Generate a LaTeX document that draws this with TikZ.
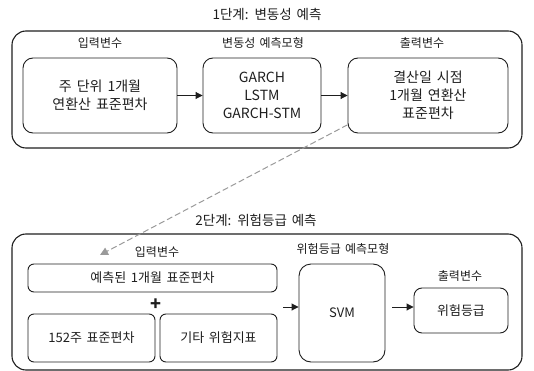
\documentclass[tikz,border=0pt]{standalone}
\usepackage{fontspec}
\setmainfont[WordSpace=1.6]{Noto Sans CJK KR}
\usetikzlibrary{arrows.meta,calc}
\definecolor{ink}{HTML}{1E1E1E}
\definecolor{dash}{HTML}{9A9A9A}
\begin{document}
\begin{tikzpicture}[x=1pt,y=-1pt,
  outer/.style={draw=ink,line width=1.1pt,rounded corners=14pt,minimum width=510pt},
  bigbox/.style={draw=ink,line width=0.9pt,rounded corners=10pt,minimum height=75pt,align=center,font=\fontsize{14}{18}\selectfont,text=ink},
  smallbox/.style={draw=ink,line width=0.9pt,rounded corners=6pt,align=center,font=\fontsize{13}{16}\selectfont,text=ink},
  lab/.style={font=\fontsize{12}{14}\selectfont,text=ink},
  ttl/.style={font=\fontsize{13.5}{16}\selectfont,text=ink},
  arr/.style={draw=ink,line width=0.9pt,-{Triangle[length=7pt,width=7pt]}},
  darr/.style={draw=dash,line width=1pt,dash pattern=on 6pt off 3pt,-{Triangle[length=8pt,width=8pt]}}]
\useasboundingbox (0,0) rectangle (534,371);
% stage 1
\node[ttl] (t1) at (267,14) {1단계: 변동성 예측};
\node[outer,minimum height=117pt] (o1) at (267,89.5) {};
\node[lab] (l1) at (100,43) {입력변수};
\node[lab] (l2) at (263,43) {변동성 예측모형};
\node[lab] (l3) at (422,43) {출력변수};
\node[bigbox,minimum width=154pt] (A) at (100,95.5) {주 단위 1개월\\연환산 표준편차};
\node[bigbox,minimum width=118pt] (B) at (262,95.5) {GARCH\\LSTM\\GARCH-STM};
\node[bigbox,minimum width=160pt] (C) at (428,95.5) {결산일 시점\\1개월 연환산\\표준편차};
\draw[arr] (A) -- (B);
\draw[arr] (B) -- (C);
% stage 2
\node[ttl] (t2) at (256,220) {2단계: 위험등급 예측};
\node[outer,minimum height=136pt] (o2) at (267,302) {};
\node[lab] (l4) at (157,252) {입력변수};
\node[lab] (l5) at (343,249) {위험등급 예측모형};
\node[lab] (l6) at (460,276) {출력변수};
\node[smallbox,minimum width=249pt,minimum height=28pt] (P) at (152.5,278) {예측된 1개월 표준편차};
\node[font=\fontsize{18}{18}\selectfont\bfseries,text=ink] (plus) at (156,305) {+};
\node[smallbox,minimum width=127pt,minimum height=48pt] (Q) at (91.5,338) {152주 표준편차};
\node[smallbox,minimum width=117pt,minimum height=48pt] (R) at (218.5,338) {기타 위험지표};
\node[smallbox,rounded corners=12pt,minimum width=86pt,minimum height=98pt] (S) at (342,313) {SVM};
\node[smallbox,rounded corners=8pt,minimum width=94pt,minimum height=45pt] (O) at (461,310.5) {위험등급};
\coordinate (a1) at (283,307);
\coordinate (a2) at (392,307);
\draw[arr] (a1) -- (S.west |- a1);
\draw[arr] (a2) -- (O.west |- a2);
% dashed link
\coordinate (d2) at (100,255);
\draw[darr] (C.200) -- (d2);
\end{tikzpicture}
\end{document}
